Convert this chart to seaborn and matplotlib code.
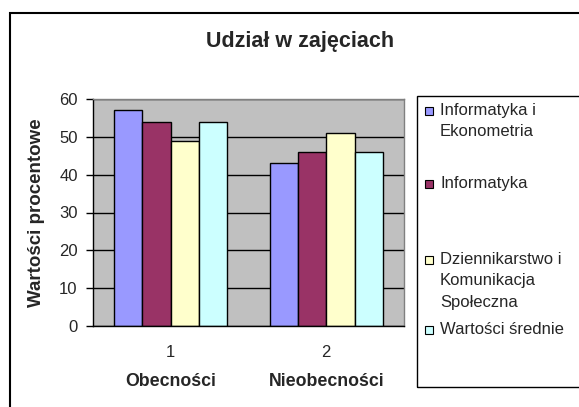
import matplotlib
matplotlib.use("Agg")
import matplotlib.pyplot as plt
from matplotlib.patches import Rectangle
import seaborn as sns
import pandas as pd

categories = ["Obecności", "Nieobecności"]
tick_labels = ["1", "2"]
series = ["Informatyka i\nEkonometria", "Informatyka",
          "Dziennikarstwo i\nKomunikacja\nSpołeczna", "Wartości średnie"]
values = {
    "Informatyka i\nEkonometria": [57, 43],
    "Informatyka": [54, 46],
    "Dziennikarstwo i\nKomunikacja\nSpołeczna": [49, 51],
    "Wartości średnie": [54, 46],
}
colors = ["#9999FF", "#993366", "#FFFFCC", "#CCFFFF"]

rows = []
for s in series:
    for c, v in zip(categories, values[s]):
        rows.append({"cat": c, "series": s, "val": v})
df = pd.DataFrame(rows)

sns.set_style("white")
plt.rcParams["font.family"] = ["Liberation Sans", "DejaVu Sans"]

FS = 12
BFS = 12.8
W, H = 579, 407
fig = plt.figure(figsize=(W / 100, H / 100), dpi=100)
ax = fig.add_axes([93 / W, 1 - 326 / H, (404 - 93) / W, (326 - 99) / H])
ax.set_facecolor("#C0C0C0")

sns.barplot(data=df, x="cat", y="val", hue="series", hue_order=series,
            order=categories, palette=colors, width=4 / 5.5, gap=0,
            edgecolor="black", linewidth=1, saturation=1, legend=False, ax=ax)

ax.set_ylim(0, 60)
ax.set_yticks(range(0, 61, 10))
ax.set_xlim(-0.5, 1.5)
ax.yaxis.grid(True, color="black", linewidth=1)
ax.set_axisbelow(True)

ax.set_xticks([0, 1])
ax.set_xticklabels(tick_labels, fontsize=FS)
ax.set_xticks([-0.5, 0.5, 1.5], minor=True)
ax.tick_params(axis="x", which="major", length=0, pad=14)
ax.tick_params(axis="x", which="minor", length=5, width=1, color="black", direction="out")
ax.tick_params(axis="y", length=5, width=1, color="black", direction="out", pad=6, labelsize=FS, left=True)
ax.set_xlabel("")
ax.set_ylabel("Wartości procentowe", fontsize=13.5, fontweight="bold")
ax.yaxis.set_label_coords((45 - 93) / (404 - 93), 0.5)

for sp in ["left", "bottom"]:
    ax.spines[sp].set_color("black")
    ax.spines[sp].set_linewidth(1)
for sp in ["top", "right"]:
    ax.spines[sp].set_color("#808080")
    ax.spines[sp].set_linewidth(1)

trans = ax.get_xaxis_transform()
for i, c in enumerate(categories):
    ax.text(i, (326 - 381) / (326 - 99), c, transform=trans, ha="center",
            va="center", fontsize=BFS, fontweight="bold")

fig.text(300 / W, 1 - 42 / H, "Udział w zajęciach", ha="center", va="center",
         fontsize=15.5, fontweight="bold")

# outer chart border
fig.patches.append(Rectangle((10 / W, -0.1), 1.2, 1 - 13 / H + 0.1,
                             transform=fig.transFigure, fill=False,
                             edgecolor="black", linewidth=1.5))
# legend box
fig.patches.append(Rectangle((417 / W, 1 - 387 / H), 0.5, (387 - 96) / H,
                             transform=fig.transFigure, fill=False,
                             edgecolor="black", linewidth=1))

first_line_y = [111, 184, 260, 330]
line_step = 21
for s, col, y0 in zip(series, colors, first_line_y):
    fig.patches.append(Rectangle((425 / W, 1 - (y0 + 4) / H), 8 / W, 8 / H,
                                 transform=fig.transFigure, facecolor=col,
                                 edgecolor="black", linewidth=0.8))
    for k, line in enumerate(s.split("\n")):
        fig.text(440 / W, 1 - (y0 + k * line_step) / H, line, ha="left",
                 va="center", fontsize=FS)

fig.savefig("out.png", dpi=100)
